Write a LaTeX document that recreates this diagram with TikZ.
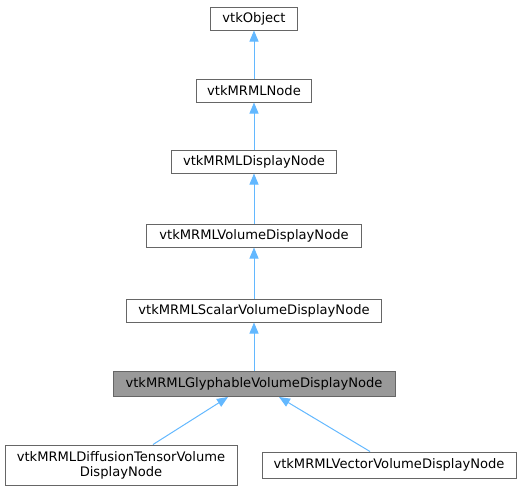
\documentclass[tikz,border=0pt]{standalone}
\usepackage{fontspec}
\setmainfont{DejaVu Sans}
\usetikzlibrary{arrows.meta}
\definecolor{edgeblue}{HTML}{63B8FF}
\definecolor{boxborder}{HTML}{666666}
\definecolor{hlfill}{HTML}{999999}
\begin{document}
\begin{tikzpicture}[x=1pt,y=-1pt,
  cls/.style={draw=boxborder,line width=1pt,fill=white,minimum height=23pt,inner sep=0pt,font=\fontsize{13.1}{15}\selectfont,anchor=center},
  hl/.style={cls,fill=hlfill},
  inh/.style={draw=edgeblue,line width=1pt,{Triangle[width=9pt,length=11pt]}-}]
\useasboundingbox (0,0) rectangle (522,491);
\node[cls,minimum width=87pt] (obj) at (254,18.5) {vtkObject};
\node[cls,minimum width=115pt] (mrml) at (254,90.5) {vtkMRMLNode};
\node[cls,minimum width=165pt] (disp) at (254,161.5) {vtkMRMLDisplayNode};
\node[cls,minimum width=215pt] (vol) at (254,235.5) {vtkMRMLVolumeDisplayNode};
\node[cls,minimum width=255pt] (scal) at (254,310.5) {vtkMRMLScalarVolumeDisplayNode};
\node[hl,minimum width=282pt,minimum height=25pt] (gly) at (254,384) {vtkMRMLGlyphableVolumeDisplayNode};
\node[cls,minimum width=232pt,minimum height=40pt,align=center] (dti) at (121,465) {vtkMRMLDiffusionTensorVolume\\DisplayNode};
\node[cls,minimum width=254pt,minimum height=26pt] (vec) at (389,465) {vtkMRMLVectorVolumeDisplayNode};
\draw[inh] (obj.south) -- (mrml.north);
\draw[inh] (mrml.south) -- (disp.north);
\draw[inh] (disp.south) -- (vol.north);
\draw[inh] (vol.south) -- (scal.north);
\draw[inh] (scal.south) -- (gly.north);
\draw[inh] (gly.south -| 228,0) -- (dti.north -| 153,0);
\draw[inh] (gly.south -| 279,0) -- (vec.north -| 370,0);
\end{tikzpicture}
\end{document}
